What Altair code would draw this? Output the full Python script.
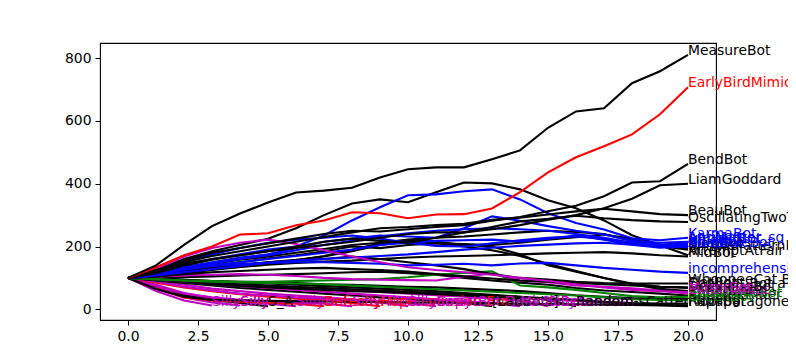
import altair as alt
import pandas as pd

K = "#000000"
R = "#ff0000"
B = "#0000ff"
M = "#bf00bf"
G = "#008000"

# ---- series that last all 21 rounds ----
measure_bot = [100, 140, 205, 265, 305, 340, 372, 378, 387, 420, 446, 452, 452, 478, 506, 578, 630, 640, 720, 758, 810]
early_bird = [100, 134, 172, 200, 238, 242, 268, 283, 309, 306, 290, 302, 303, 321, 373, 436, 484, 519, 557, 621, 707]
bend_bot = [100, 122, 155, 180, 195, 210, 225, 240, 250, 248, 255, 262, 268, 282, 294, 312, 330, 360, 404, 408, 463]
liam_goddard = [100, 118, 145, 160, 172, 185, 195, 205, 215, 228, 240, 245, 245, 255, 268, 285, 300, 322, 352, 395, 400]
beau_bot = [100, 125, 150, 170, 185, 200, 215, 230, 245, 258, 262, 268, 272, 285, 292, 302, 312, 320, 312, 303, 300]
oscillating = [100, 115, 140, 158, 172, 185, 200, 215, 225, 218, 212, 228, 245, 262, 280, 288, 298, 290, 284, 280, 278]
attempt_fair = [100, 125, 160, 185, 205, 225, 258, 300, 337, 350, 341, 373, 404, 401, 382, 347, 322, 283, 236, 204, 172]
simple_pattern = [100, 112, 130, 145, 158, 168, 180, 192, 205, 212, 222, 228, 232, 238, 245, 250, 246, 240, 218, 202, 190]
slow_black = [100, 110, 125, 140, 150, 162, 172, 185, 200, 195, 205, 210, 208, 205, 212, 222, 230, 238, 225, 205, 195]
mid_black = [100, 110, 118, 128, 135, 142, 148, 152, 155, 160, 165, 168, 170, 172, 175, 178, 180, 182, 178, 172, 168]
whoopee = [100, 112, 125, 135, 142, 150, 155, 160, 168, 160, 150, 140, 128, 112, 100, 95, 88, 84, 82, 82, 82]
copycat = [100, 108, 120, 130, 140, 150, 158, 168, 185, 205, 218, 212, 200, 188, 170, 145, 122, 100, 82, 72, 68]
decline_black = [100, 105, 115, 125, 135, 145, 155, 170, 190, 210, 220, 215, 205, 200, 175, 140, 120, 100, 80, 65, 58]
flat_black = [100, 105, 112, 118, 122, 126, 130, 132, 128, 125, 120, 112, 105, 98, 92, 88, 84, 80, 76, 72, 70]
black_45 = [100, 100, 102, 105, 108, 110, 112, 115, 118, 120, 115, 110, 100, 92, 85, 78, 68, 60, 55, 50, 44]
free_black = [100, 98, 94, 90, 88, 86, 84, 80, 78, 75, 72, 70, 66, 62, 58, 52, 45, 40, 36, 34, 33]
rapa_black = [100, 96, 90, 85, 80, 76, 72, 68, 64, 60, 56, 52, 48, 44, 40, 35, 30, 24, 20, 18, 18]
low_black = [100, 95, 88, 80, 74, 70, 66, 62, 58, 55, 52, 48, 44, 40, 36, 32, 28, 22, 18, 14, 12]
floor_black = [100, 65, 40, 30, 28, 27, 26, 25, 24, 23, 22, 21, 20, 19, 18, 17, 16, 15, 14, 12, 10]

karma_bot = [100, 120, 140, 160, 175, 190, 200, 235, 283, 325, 363, 366, 376, 382, 350, 306, 275, 254, 226, 220, 228]
anti_sq = [100, 115, 135, 150, 165, 175, 195, 215, 225, 235, 232, 228, 258, 296, 282, 265, 250, 238, 218, 212, 215]
blue_3 = [100, 110, 128, 145, 160, 172, 188, 205, 218, 232, 242, 250, 255, 258, 255, 250, 240, 228, 212, 206, 210]
blue_4 = [100, 120, 150, 175, 195, 212, 222, 228, 235, 225, 212, 202, 200, 210, 220, 228, 232, 224, 210, 202, 205]
blue_5 = [100, 112, 125, 140, 150, 160, 170, 180, 190, 205, 212, 218, 220, 222, 216, 225, 235, 222, 206, 196, 200]
blue_6 = [100, 108, 118, 128, 138, 148, 155, 160, 165, 170, 175, 182, 190, 196, 202, 206, 210, 212, 206, 200, 198]
incomprehensible = [100, 112, 128, 138, 144, 148, 150, 150, 148, 145, 140, 142, 145, 140, 146, 148, 140, 132, 126, 120, 116]

green_1 = [100, 96, 92, 90, 88, 88, 90, 92, 94, 96, 102, 110, 116, 121, 76, 70, 62, 52, 42, 38, 40]
green_2 = [100, 95, 92, 88, 86, 84, 82, 80, 76, 72, 68, 64, 60, 56, 52, 48, 44, 38, 32, 30, 28]

magenta_1 = [100, 130, 168, 195, 212, 222, 208, 188, 168, 150, 134, 125, 118, 110, 100, 90, 80, 70, 62, 58, 55]
magenta_2 = [100, 104, 108, 110, 112, 110, 106, 100, 96, 94, 93, 92, 104, 114, 92, 86, 76, 72, 67, 60, 50]

# ---- series that stop early ----
silly_silly = [100, 58, 28, 12]
silly = [100, 66, 38, 22, 12]
s_a = [100, 74, 46, 30, 20, 10]
silly_bot = [100, 78, 52, 36, 26, 18, 10]
defectly = [100, 67, 38, 28, 24, 21, 18, 10]
silly_mimic = [100, 72, 50, 38, 30, 26, 22, 18, 10]
hope_collusion = [100, 85, 70, 58, 48, 40, 34, 28, 20, 10]
magenta_e1 = [100, 88, 72, 60, 50, 44, 38, 34, 28, 22, 10]
beta_2 = [100, 90, 78, 66, 58, 50, 44, 38, 32, 26, 20, 10]
lab_bots = [100, 92, 84, 76, 68, 62, 56, 50, 44, 38, 32, 26, 20, 10]
magenta_e2 = [100, 95, 88, 80, 74, 68, 62, 56, 50, 44, 38, 32, 26, 20, 10]
magenta_e3 = [100, 96, 90, 84, 78, 74, 70, 65, 60, 55, 50, 45, 40, 34, 28, 10]
random_scatter = [100, 98, 94, 90, 86, 82, 78, 74, 70, 66, 62, 58, 52, 46, 40, 30, 10]

series = [
    ("SillySilly", M, silly_silly),
    ("Silly", M, silly),
    ("S_A", K, s_a),
    ("SillyBot", M, silly_bot),
    ("Defectly", R, defectly),
    ("SillyMimic", M, silly_mimic),
    ("Hope collusion Bot", R, hope_collusion),
    ("SillyCopy", M, magenta_e1),
    ("SmartBot Beta 2", M, beta_2),
    ("[LabBots]", K, lab_bots),
    ("MimicBeta", M, magenta_e2),
    ("SillyRandom", M, magenta_e3),
    ("Random-sCatter", K, random_scatter),
    ("FloorBot", K, floor_black),
    ("Rapaparagone", K, low_black),
    ("Rapeng", K, rapa_black),
    ("AntiFreeRider", K, free_black),
    ("ShadowBot", K, black_45),
    ("GreenBot", G, green_2),
    ("SnowflakeBot", G, green_1),
    ("ExternalBot", M, magenta_2),
    ("FlatBot", K, flat_black),
    ("DecliningBot", K, decline_black),
    ("Copycat Bot a", K, copycat),
    ("WhoopeeCat Bot", K, whoopee),
    ("MidBot", K, mid_black),
    ("SlowBot", K, slow_black),
    ("SimplePatternFinder", K, simple_pattern),
    ("AttemptAtFair", K, attempt_fair),
    ("incomprehensible", B, incomprehensible),
    ("BlueBot", B, blue_6),
    ("AdaptiveBot", B, blue_5),
    ("NiceBot", B, blue_4),
    ("AltruistBot", B, blue_3),
    ("AntiMatter_sq", B, anti_sq),
    ("KarmaBot", B, karma_bot),
    ("MirrorBot", M, magenta_1),
    ("OscillatingTwoThirds", K, oscillating),
    ("BeauBot", K, beau_bot),
    ("LiamGoddard", K, liam_goddard),
    ("BendBot", K, bend_bot),
    ("EarlyBirdMimicBot", R, early_bird),
    ("MeasureBot", K, measure_bot),
]

rows = []
labels = []
for i, (name, color, vals) in enumerate(series):
    key = f"s{i:02d}"
    for x, v in enumerate(vals):
        rows.append({"name": name, "color": color, "x": x, "y": v, "k": key})
    labels.append({"name": name, "color": color, "x": len(vals) - 1, "y": vals[-1], "k": key})

df = pd.DataFrame(rows)
lab = pd.DataFrame(labels)

FONT = "DejaVu Sans"
xscale = alt.Scale(domain=[-1, 21], nice=False, zero=False)
yscale = alt.Scale(domain=[-34, 848], nice=False, zero=False)
xaxis = alt.Axis(values=[0, 2.5, 5, 7.5, 10, 12.5, 15, 17.5, 20], format=".1f", title=None,
                 grid=False, domain=False, tickColor="black", tickSize=5, tickWidth=1,
                 labelFont=FONT, labelFontSize=13.9, labelColor="black", labelPadding=4)
yaxis = alt.Axis(values=list(range(0, 801, 100)), format="d", title=None,
                 grid=False, domain=False, tickColor="black", tickSize=5, tickWidth=1,
                 labelFont=FONT, labelFontSize=13.9, labelColor="black", labelPadding=4)

lines = alt.Chart(df).mark_line(strokeWidth=2.1, clip=True).encode(
    x=alt.X("x:Q", scale=xscale, axis=xaxis),
    y=alt.Y("y:Q", scale=yscale, axis=yaxis),
    color=alt.Color("color:N", scale=None),
    detail="k:N",
    order="x:Q",
)

texts = alt.Chart(lab).mark_text(align="left", baseline="alphabetic", font=FONT, fontSize=13.9).encode(
    x=alt.X("x:Q", scale=xscale),
    y=alt.Y("y:Q", scale=yscale),
    text="name:N",
    color=alt.Color("color:N", scale=None),
)

chart = alt.layer(lines, texts).properties(
    width=616, height=277,
    background="white",
    autosize=alt.AutoSizeParams(type="none"),
    padding={"left": 92, "top": 35, "right": 72, "bottom": 24},
).configure_view(stroke="black", strokeWidth=1.1)

chart.save("out.html", embed_options={"renderer": "svg", "actions": False})
